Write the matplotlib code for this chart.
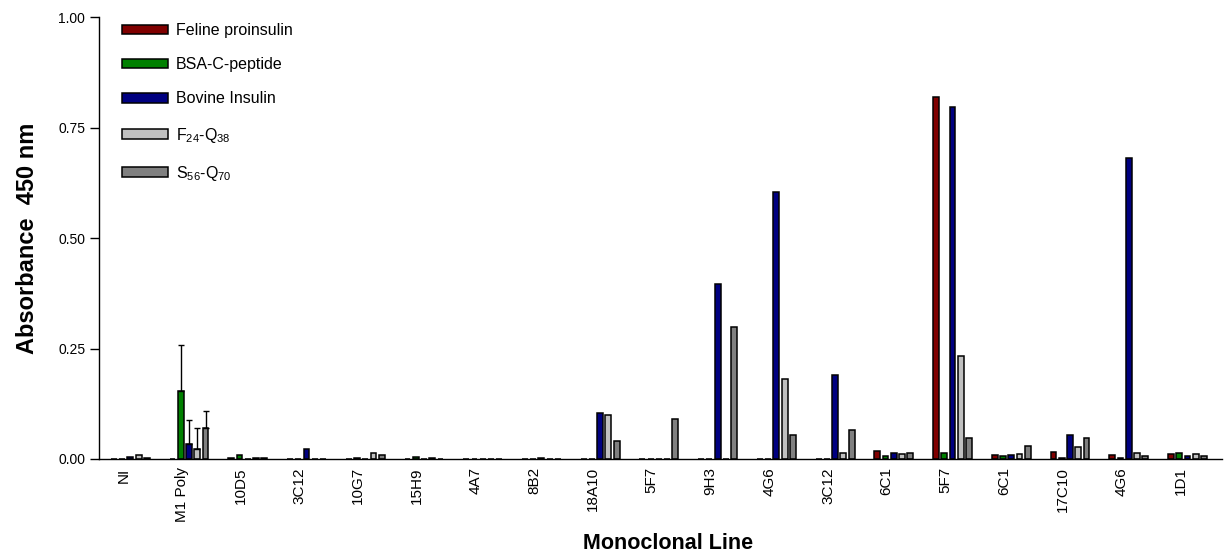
import matplotlib
matplotlib.use("Agg")
import matplotlib.pyplot as plt
import numpy as np

plt.rcParams['font.family'] = ['Liberation Sans', 'DejaVu Sans']
plt.rcParams['mathtext.fontset'] = 'custom'
plt.rcParams['mathtext.rm'] = 'Liberation Sans'
plt.rcParams['mathtext.it'] = 'Liberation Sans:italic'
plt.rcParams['mathtext.bf'] = 'Liberation Sans:bold'
plt.rcParams['mathtext.default'] = 'rm'

# monoclonal lines
lines = ["NI", "M1 Poly", "10D5", "3C12", "10G7", "15H9", "4A7", "8B2", "18A10", "5F7",
         "9H3", "4G6", "3C12", "6C1", "5F7", "6C1", "17C10", "4G6", "1D1"]

# absorbance per antigen
feline = [0, 0, 0.002, 0, 0, 0, 0, 0, 0, 0,
          0, 0, 0.001, 0.018, 0.819, 0.010, 0.016, 0.009, 0.011]
bsa_cpep = [0, 0.153, 0.008, 0, 0.003, 0.004, 0, 0, 0, 0,
            0, 0, 0.001, 0.007, 0.013, 0.007, 0.003, 0.002, 0.014]
bovine = [0.005, 0.034, 0, 0.022, 0, 0, 0, 0.003, 0.104, 0,
          0.395, 0.604, 0.189, 0.013, 0.797, 0.010, 0.055, 0.682, 0.007]
f24_q38 = [0.009, 0.022, 0.003, 0, 0.013, 0.003, 0, 0.001, 0.099, 0,
           0, 0.180, 0.013, 0.011, 0.233, 0.011, 0.026, 0.014, 0.011]
s56_q70 = [0.003, 0.069, 0.003, 0, 0.010, 0.001, 0, 0, 0.040, 0.090,
           0.298, 0.054, 0.065, 0.013, 0.048, 0.030, 0.047, 0.006, 0.007]

# upper error (only M1 Poly has them)
feline_err = [0] * 19
bsa_err = [0, 0.105] + [0] * 17
bovine_err = [0, 0.054] + [0] * 17
f24_err = [0, 0.049] + [0] * 17
s56_err = [0, 0.040] + [0] * 17

series = [
    ("Feline proinsulin", feline, feline_err, "#800000"),
    ("BSA-C-peptide", bsa_cpep, bsa_err, "#008000"),
    ("Bovine Insulin", bovine, bovine_err, "#000080"),
    ("F$_{24}$-Q$_{38}$", f24_q38, f24_err, "#c0c0c0"),
    ("S$_{56}$-Q$_{70}$", s56_q70, s56_err, "#808080"),
]

fig = plt.figure(figsize=(12.27, 5.52), dpi=100)
ax = fig.add_axes([0.0807, 0.1685, 0.9153, 0.8005])

x = np.arange(len(lines))
pitch = 0.1405
w = 0.1
for k, (name, vals, err, col) in enumerate(series):
    pos = x + (k - 2) * pitch
    ax.bar(pos, vals, width=w, color=col, edgecolor="black", linewidth=1.1, label=name, zorder=2)
    vals = np.array(vals)
    err = np.array(err)
    m = err > 0
    if m.any():
        ax.errorbar(pos[m], vals[m], yerr=[np.zeros(m.sum()), err[m]], fmt="none",
                    ecolor="black", elinewidth=1.0, capsize=2, capthick=1.0, zorder=3)

ax.set_xlim(-0.533, 18.59)
ax.set_ylim(0, 1.0)
ax.set_yticks([0, 0.25, 0.5, 0.75, 1.0])
ax.set_yticklabels(["0.00", "0.25", "0.50", "0.75", "1.00"])
ax.set_xticks(x - 0.12)
ax.set_xticklabels(lines, rotation=90, fontsize=11)
ax.tick_params(axis="x", length=0, pad=6)
ax.tick_params(axis="y", length=6.5, width=1, labelsize=10, direction="out")

for s in ["top", "right"]:
    ax.spines[s].set_visible(False)
for s in ["left", "bottom"]:
    ax.spines[s].set_linewidth(1.0)

ax.set_ylabel("Absorbance  450 nm", fontsize=17, fontweight="bold", labelpad=14)
fig.text(668 / 1227, 3 / 552, "Monoclonal Line", fontsize=15.5, fontweight="bold",
         ha="center", va="baseline")

ax.legend(loc="upper left", bbox_to_anchor=(0.003, 1.03), frameon=False, fontsize=11.5,
          handlelength=2.9, handleheight=0.55, labelspacing=1.2, handletextpad=0.5,
          borderaxespad=0.8)

fig.savefig("out.png", dpi=100)
